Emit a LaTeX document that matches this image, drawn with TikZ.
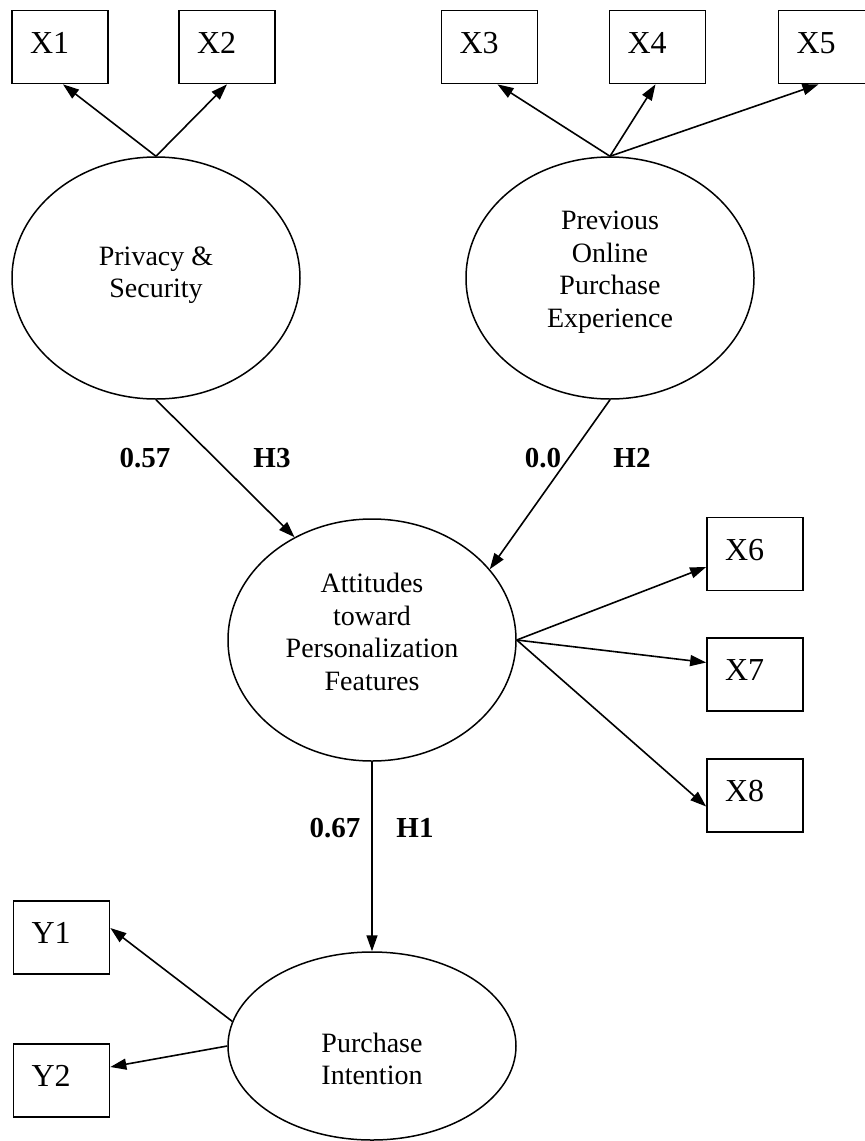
\documentclass[tikz,border=0pt]{standalone}
\usepackage{fontspec}
\setmainfont{Liberation Serif}
\usetikzlibrary{arrows.meta,shapes.geometric,calc}
\begin{document}
\begin{tikzpicture}[x=1pt,y=-1pt,
  every node/.style={inner sep=0pt},
  ind/.style={draw, line width=1.7pt, rectangle, minimum width=96pt, minimum height=73pt,
    inner xsep=18pt, text width=60pt, align=left,
    font=\fontsize{32}{36}\selectfont, text height=22pt, text depth=10pt},
  latent/.style={draw, ellipse, line width=1.5pt, minimum width=288pt, minimum height=242pt},
  flat/.style={minimum height=188pt},
  lbl/.style={align=center, font=\fontsize{28}{32.5}\selectfont},
  coef/.style={font=\fontsize{29}{33}\selectfont\bfseries},
  link/.style={line width=1.6pt, -{Triangle[length=16pt,width=11pt]}}]
\useasboundingbox (0,0) rectangle (865,1141);

% latent constructs
\node[latent] (ps)  at (156,278)  {};
\node[latent] (pe)  at (610,278)  {};
\node[latent] (att) at (372,640)  {};
\node[latent,flat] (pi) at (372,1046) {};

\node[lbl] (pstext)  at (156,275)  {Privacy \&\\Security};
\node[lbl] (petext)  at (610,272)  {Previous\\Online\\Purchase\\Experience};
\node[lbl] (atttext) at (372,632)  {Attitudes\\toward\\Personalization\\Features};
\node[lbl] (pitext)  at (372,1059) {Purchase\\Intention};

% indicators
\node[ind] (x1) at (60,47)    {X1};
\node[ind] (x2) at (227,47)   {X2};
\node[ind] (x3) at (489.5,47) {X3};
\node[ind] (x4) at (657.5,47) {X4};
\node[ind] (x5) at (826.5,47) {X5};
\node[ind] (x6) at (755,554)  {X6};
\node[ind] (x7) at (755,674.5){X7};
\node[ind] (x8) at (755,795.5){X8};
\node[ind] (y1) at (61.5,937.5) {Y1};
\node[ind] (y2) at (61.5,1080.5){Y2};

% measurement paths
\draw[link] (ps.north) -- ($(x1.south)+(3,0)$);
\draw[link] (ps.north) -- (x2.south);
\draw[link] (pe.north) -- ($(x3.south)+(8,0)$);
\draw[link] (pe.north) -- ($(x4.south)+(-2,0)$);
\draw[link] (pe.north) -- ($(x5.south)+(-8,0)$);
\draw[link] (att.east) -- ($(x6.west)+(0,13)$);
\draw[link] (att.east) -- ($(x7.west)+(0,-12)$);
\draw[link] (att.east) -- ($(x8.west)+(0,11)$);
\draw[link] (pi.170)  -- ($(y1.east)+(0,-9.5)$);
\draw[link] (pi.west) -- ($(y2.east)+(0,-13.5)$);

% structural paths
\draw[link] (ps.south) -- (att.127);
\draw[link] (pe.south) -- (att.31);
\draw[link] (att.south) -- (pi.north);

% path coefficients and hypotheses
\node[coef] (c57) at (145,458) {0.57};
\node[coef] (h3)  at (272,458) {H3};
\node[coef] (c00) at (543,458) {0.0};
\node[coef] (h2)  at (632,458) {H2};
\node[coef] (c67) at (335,828) {0.67};
\node[coef] (h1)  at (415,828) {H1};
\end{tikzpicture}
\end{document}
